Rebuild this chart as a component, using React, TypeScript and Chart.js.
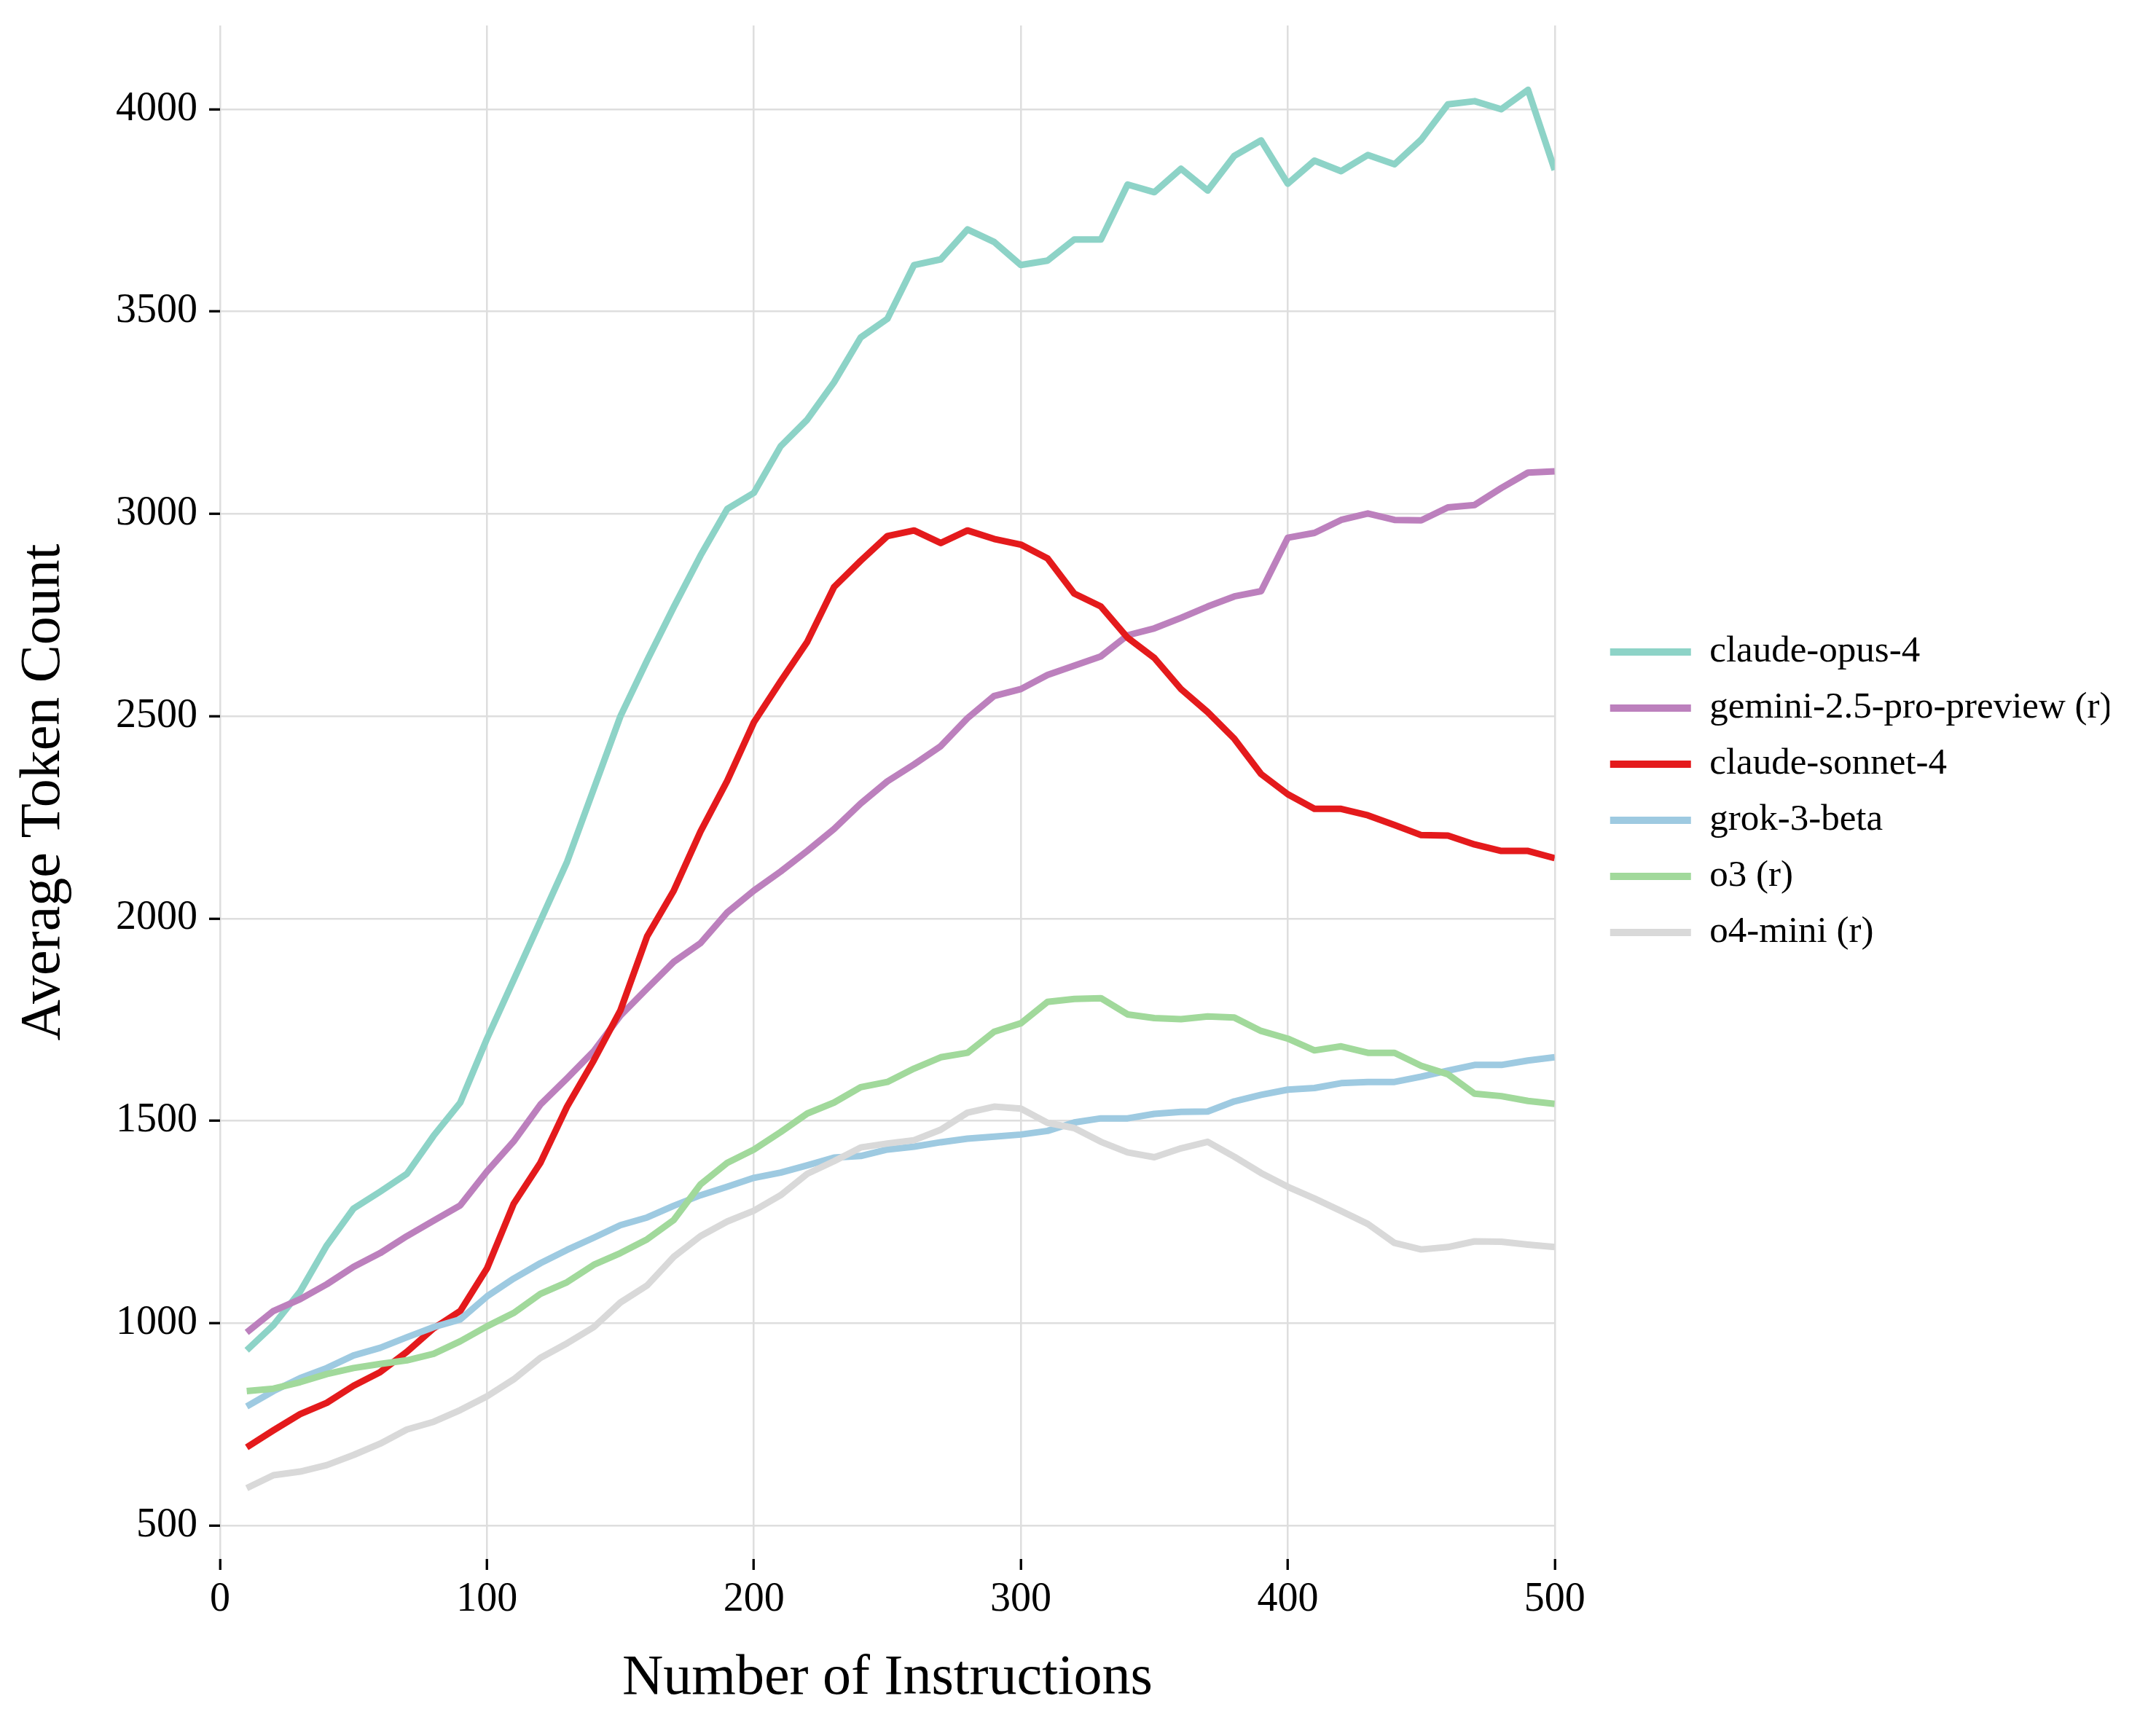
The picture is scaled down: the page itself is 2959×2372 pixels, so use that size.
import { useEffect, useRef } from "react";
import { Chart, registerables } from "chart.js";

Chart.register(...registerables);

const X_VALUES = [
  10, 20, 30, 40, 50, 60, 70, 80, 90, 100,
  110, 120, 130, 140, 150, 160, 170, 180, 190, 200,
  210, 220, 230, 240, 250, 260, 270, 280, 290, 300,
  310, 320, 330, 340, 350, 360, 370, 380, 390, 400,
  410, 420, 430, 440, 450, 460, 470, 480, 490, 500,
];

const CLAUDE_OPUS_4 = [
  933, 995, 1078, 1192, 1283, 1325, 1369, 1463, 1545, 1703,
  1848, 1994, 2140, 2320, 2500, 2638, 2770, 2897, 3012, 3052,
  3167, 3233, 3325, 3436, 3482, 3615, 3629, 3703, 3672, 3615,
  3626, 3678, 3678, 3814, 3795, 3853, 3799, 3885, 3923, 3816,
  3873, 3847, 3887, 3864, 3925, 4012, 4020, 4000, 4048, 3850,
];

const GEMINI_25_PRO = [
  977, 1030, 1059, 1096, 1139, 1173, 1215, 1253, 1291, 1375,
  1449, 1540, 1605, 1672, 1760, 1827, 1893, 1939, 2015, 2069,
  2116, 2167, 2221, 2284, 2339, 2381, 2426, 2495, 2550, 2567,
  2602, 2625, 2648, 2700, 2717, 2743, 2771, 2796, 2809, 2941,
  2953, 2985, 3001, 2985, 2984, 3016, 3022, 3064, 3102, 3105,
];

const CLAUDE_SONNET_4 = [
  693, 735, 775, 803, 845, 879, 929, 987, 1030, 1135,
  1295, 1396, 1535, 1649, 1773, 1956, 2069, 2215, 2340, 2485,
  2586, 2684, 2819, 2884, 2945, 2959, 2928, 2959, 2938, 2924,
  2890, 2803, 2771, 2694, 2644, 2567, 2510, 2444, 2357, 2307,
  2271, 2271, 2255, 2231, 2206, 2205, 2183, 2167, 2167, 2149,
];

const GROK_3_BETA = [
  794, 832, 864, 889, 920, 939, 965, 990, 1009, 1066,
  1110, 1148, 1181, 1211, 1242, 1261, 1290, 1316, 1337, 1359,
  1372, 1390, 1409, 1413, 1429, 1436, 1447, 1456, 1461, 1466,
  1475, 1496, 1506, 1506, 1517, 1522, 1523, 1548, 1564, 1577,
  1581, 1593, 1596, 1596, 1609, 1624, 1638, 1638, 1649, 1657,
];

const O3 = [
  832, 838, 854, 874, 889, 899, 908, 924, 955, 992,
  1025, 1072, 1101, 1144, 1173, 1207, 1255, 1343, 1396, 1429,
  1472, 1518, 1545, 1583, 1596, 1629, 1657, 1668, 1720, 1741,
  1794, 1801, 1803, 1763, 1754, 1751, 1758, 1755, 1722, 1703,
  1674, 1684, 1668, 1668, 1636, 1615, 1567, 1561, 1549, 1542,
];

const O4_MINI = [
  592, 624, 633, 649, 674, 702, 737, 756, 785, 819,
  861, 914, 950, 990, 1051, 1093, 1164, 1215, 1251, 1278,
  1316, 1369, 1400, 1434, 1444, 1452, 1478, 1520, 1535, 1530,
  1495, 1482, 1448, 1422, 1410, 1432, 1448, 1411, 1371, 1337,
  1308, 1277, 1245, 1198, 1182, 1188, 1202, 1201, 1194, 1188,
];

const SERIES_NAMES = [
  "claude-opus-4",
  "gemini-2.5-pro-preview (r)",
  "claude-sonnet-4",
  "grok-3-beta",
  "o3 (r)",
  "o4-mini (r)",
];

const SERIES_VALUES = [CLAUDE_OPUS_4, GEMINI_25_PRO, CLAUDE_SONNET_4, GROK_3_BETA, O3, O4_MINI];

const SERIES_COLORS = ["#8dd3c7", "#bc80bd", "#e41a1c", "#9ecae1", "#a1d99b", "#d9d9d9"];

const X_TICKS = [0, 100, 200, 300, 400, 500];
const Y_TICKS = [500, 1000, 1500, 2000, 2500, 3000, 3500, 4000];

const X_TITLE = "Number of Instructions";
const Y_TITLE = "Average Token Count";

const FONT = "'Liberation Serif', 'DejaVu Serif', serif";

export default function App() {
  const canvasRef = useRef<HTMLCanvasElement | null>(null);

  useEffect(() => {
    if (!canvasRef.current) return;

    const datasets = SERIES_NAMES.map((name, i) => ({
      label: name,
      data: X_VALUES.map((x, j) => ({ x, y: SERIES_VALUES[i][j] })),
      borderColor: SERIES_COLORS[i],
      backgroundColor: SERIES_COLORS[i],
      borderWidth: 9,
      borderJoinStyle: "round" as const,
      borderCapStyle: "butt" as const,
      pointRadius: 0,
      pointHoverRadius: 0,
      tension: 0,
      fill: false,
      order: SERIES_NAMES.length - i,
    }));

    const shiftLegend = {
      id: "shiftLegend",
      afterLayout(chart: any) {
        const lg = chart.legend;
        if (lg) {
          lg.left += 50;
          lg.right += 50;
        }
      },
    };

    const chart = new Chart(canvasRef.current, {
      type: "line",
      data: { datasets },
      options: {
        animation: false,
        responsive: true,
        maintainAspectRatio: false,
        devicePixelRatio: 1,
        layout: { padding: { top: 35, right: 114, bottom: 0, left: 0 } },
        plugins: {
          legend: {
            position: "right",
            align: "center",
            fullSize: false,
            labels: {
              font: { family: FONT, size: 51 },
              color: "#000",
              boxWidth: 111,
              boxHeight: 10,
              padding: 26,
              generateLabels: (c: any) =>
                c.data.datasets.map((ds: any, i: number) => ({
                  text: ds.label,
                  fillStyle: ds.borderColor,
                  strokeStyle: ds.borderColor,
                  lineWidth: 0,
                  fontColor: "#000",
                  hidden: false,
                  datasetIndex: i,
                })),
            },
          },
          tooltip: { enabled: false },
        },
        scales: {
          x: {
            type: "linear",
            min: 0,
            max: 500,
            afterBuildTicks: (s: any) => {
              s.ticks = X_TICKS.map((v) => ({ value: v }));
            },
            afterFit: (s: any) => {
              s.height = 232;
              s.paddingLeft = 0;
              s.paddingRight = 0;
            },
            border: { display: false },
            grid: {
              color: "#dedede",
              lineWidth: 2.5,
              drawTicks: true,
              tickLength: 15,
              tickColor: "#000",
              tickWidth: 3.3,
            },
            ticks: {
              font: { family: FONT, size: 56 },
              color: "#000",
              padding: 8,
              maxRotation: 0,
              autoSkip: false,
              callback: (v: any) => String(v),
            },
            title: {
              display: true,
              text: X_TITLE,
              font: { family: FONT, size: 78 },
              color: "#000",
              padding: { top: 0, bottom: 21 },
            },
          },
          y: {
            type: "linear",
            min: 417,
            max: 4207,
            afterBuildTicks: (s: any) => {
              s.ticks = Y_TICKS.map((v) => ({ value: v }));
            },
            afterFit: (s: any) => {
              s.width = 302;
              s.paddingTop = 0;
              s.paddingBottom = 0;
            },
            border: { display: false },
            grid: {
              color: "#dedede",
              lineWidth: 2.5,
              drawTicks: true,
              tickLength: 15,
              tickColor: "#000",
              tickWidth: 3.3,
            },
            ticks: {
              font: { family: FONT, size: 56 },
              color: "#000",
              padding: 16,
              autoSkip: false,
              callback: (v: any) => String(v),
            },
            title: {
              display: true,
              text: Y_TITLE,
              font: { family: FONT, size: 78 },
              color: "#000",
              padding: { top: 14, bottom: 0 },
            },
          },
        },
      },
      plugins: [shiftLegend],
    });

    return () => chart.destroy();
  }, []);

  return (
    <div
      style={{
        position: "fixed",
        left: 0,
        top: 0,
        width: 2959,
        height: 2372,
        background: "#ffffff",
      }}
    >
      <canvas ref={canvasRef} />
    </div>
  );
}
